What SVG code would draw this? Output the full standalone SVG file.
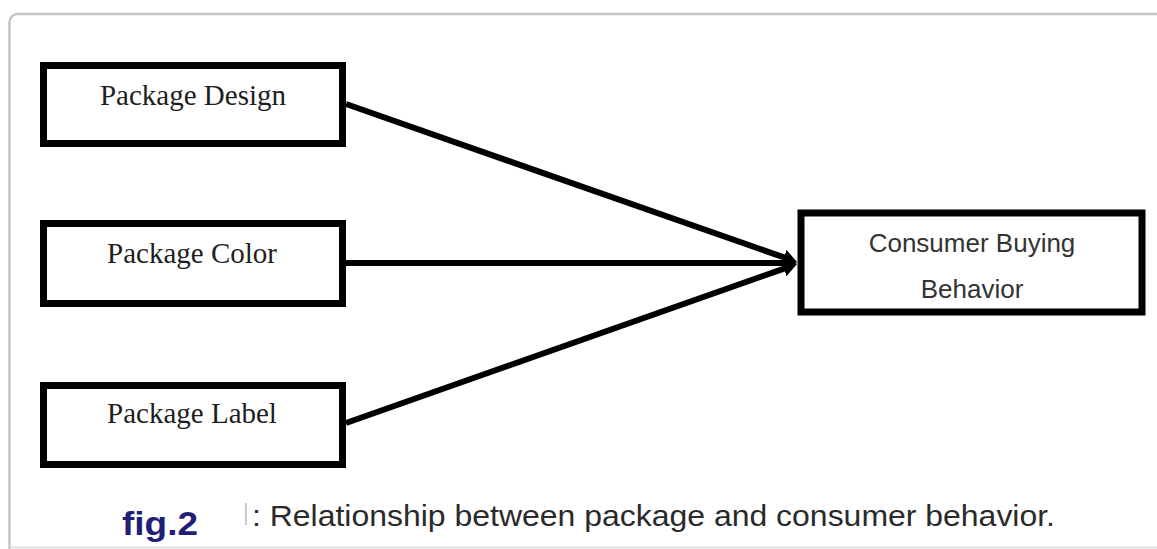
<svg xmlns="http://www.w3.org/2000/svg" width="1157" height="549" viewBox="0 0 1157 549">
  <style>
    .box { fill: #ffffff; stroke: #000000; stroke-width: 7; }
    .serif { font-family: "Liberation Serif", "Times New Roman", serif; font-size: 29px; fill: #1e1e1e; text-anchor: middle; }
    .sans { font-family: "Liberation Sans", Arial, sans-serif; font-size: 26px; fill: #333333; text-anchor: middle; }
    .conn { stroke: #000000; stroke-width: 6; fill: none; marker-end: url(#arrow); }
  </style>
  <defs>
    <marker id="arrow" markerUnits="userSpaceOnUse" markerWidth="16" markerHeight="18" refX="4" refY="8" orient="auto">
      <path d="M0,0 L14,8 L0,16 z" fill="#000000"/>
    </marker>
  </defs>
  <rect x="0" y="0" width="1157" height="549" fill="#ffffff"/>
  <g id="frame">
    <path d="M9.5,549 L9.5,22 A8,8 0 0 1 17.5,14 L1157,14" fill="none" stroke="#c4c4c4" stroke-width="2.5"/>
    <line x1="10" y1="547.5" x2="1157" y2="547.5" stroke="#e2e2e2" stroke-width="2"/>
  </g>
  <g id="connectors">
    <line class="conn" x1="346" y1="104" x2="787.6" y2="258.7"/>
    <line class="conn" x1="346" y1="263" x2="787" y2="263"/>
    <line class="conn" x1="346" y1="423" x2="787.6" y2="267.3"/>
  </g>
  <g id="node-design">
    <rect class="box" x="43.5" y="65.5" width="299" height="78"/>
    <text class="serif" x="193" y="105">Package Design</text>
  </g>
  <g id="node-color">
    <rect class="box" x="43.5" y="223.5" width="299" height="80"/>
    <text class="serif" x="192" y="263">Package Color</text>
  </g>
  <g id="node-label">
    <rect class="box" x="43.5" y="385.5" width="299" height="79"/>
    <text class="serif" x="192" y="423">Package Label</text>
  </g>
  <g id="node-consumer">
    <rect class="box" x="801" y="213" width="341" height="99" stroke-width="8"/>
    <text class="sans" x="972" y="252">Consumer Buying</text>
    <text class="sans" x="972" y="298">Behavior</text>
  </g>
  <g id="caption">
    <text x="122" y="535" font-family="Liberation Sans, Arial, sans-serif" font-weight="bold" font-size="34" fill="#1f1f78" textLength="76" lengthAdjust="spacingAndGlyphs">fig.2</text>
    <line x1="246" y1="503" x2="246" y2="525" stroke="#b8b8b8" stroke-width="1.5"/>
    <text x="252" y="526" font-family="Liberation Sans, Arial, sans-serif" font-size="30" fill="#2a2a2a" textLength="803" lengthAdjust="spacingAndGlyphs">: Relationship between package and consumer behavior.</text>
  </g>
</svg>
